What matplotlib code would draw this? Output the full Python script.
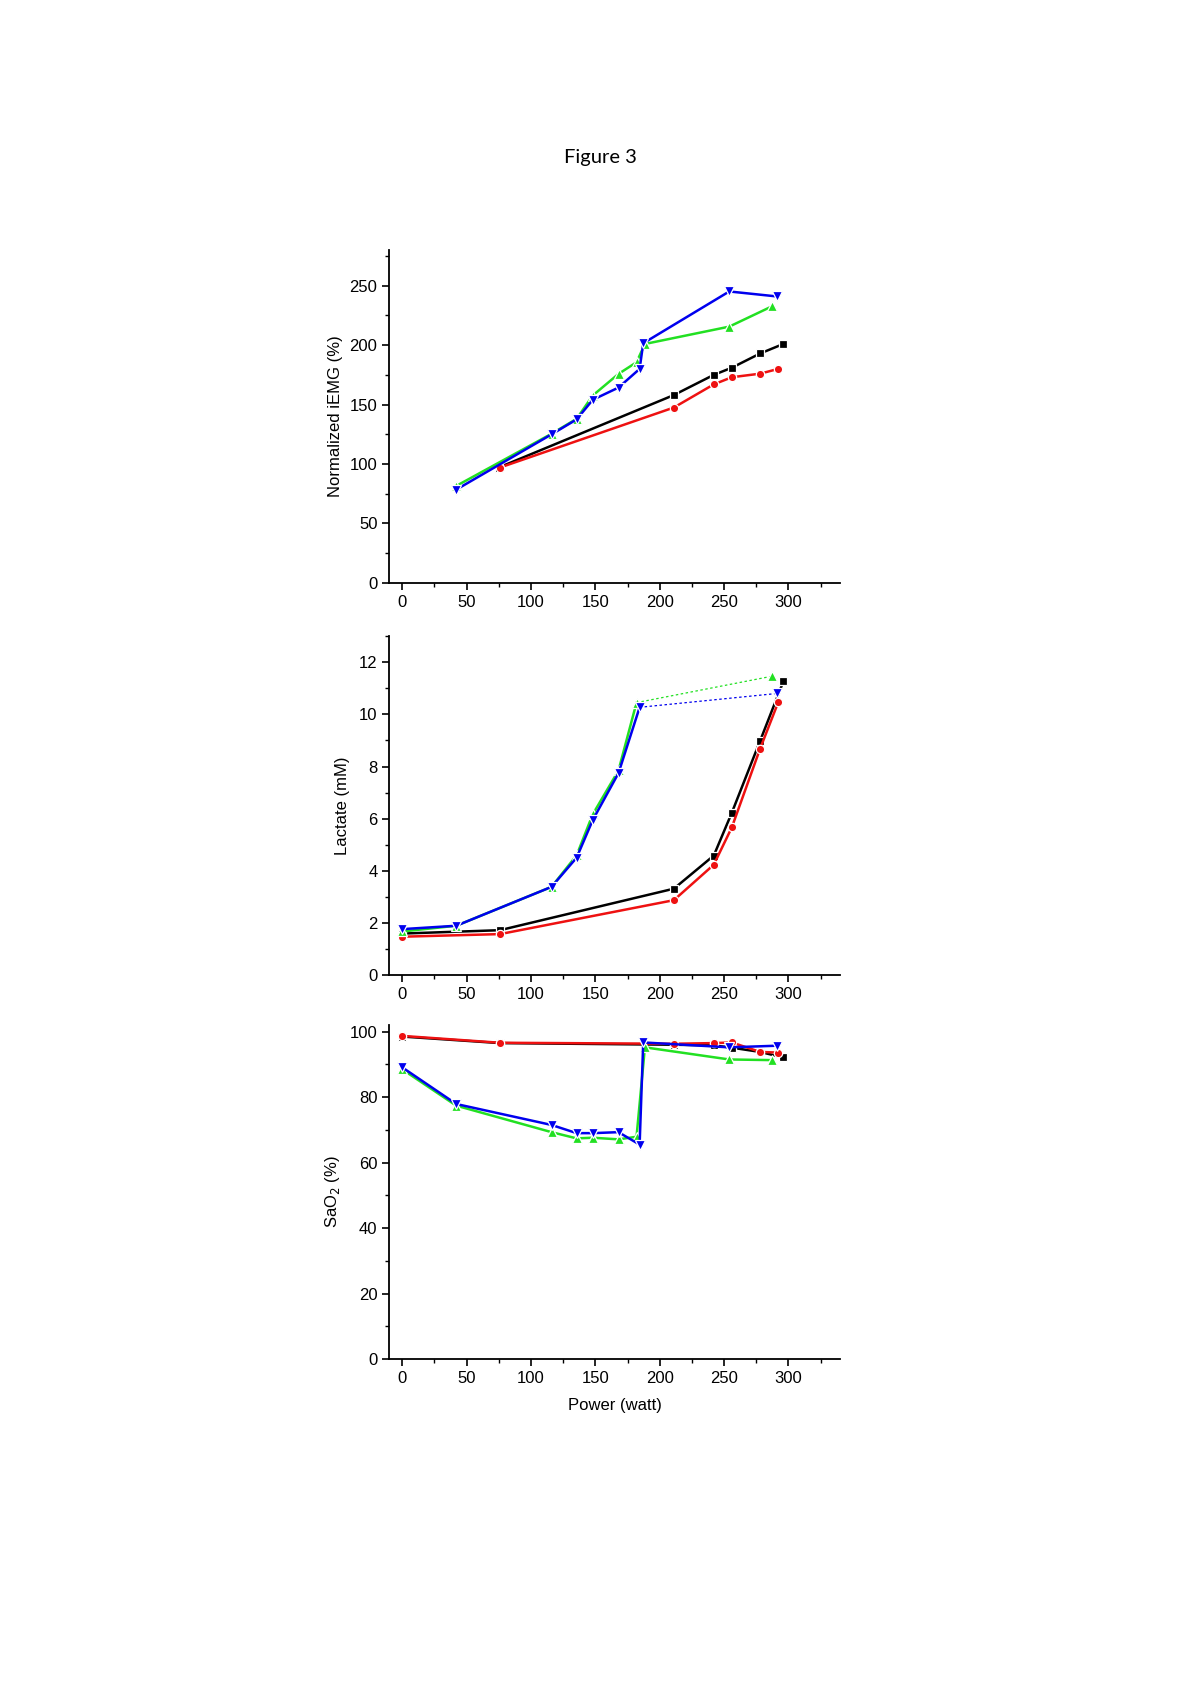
import matplotlib
matplotlib.use("Agg")
import matplotlib.pyplot as plt
from matplotlib.ticker import MultipleLocator

plt.rcParams['font.family'] = ['Liberation Sans', 'DejaVu Sans']

# ---- data (x = power in watt) ----
# Panel A: normalized iEMG (%)
emg_black_x = [75, 211, 242, 256, 278, 296]
emg_black_y = [97, 158, 175, 181, 193, 201]
emg_red_x = [76, 211, 242, 256, 278, 292]
emg_red_y = [97, 147.5, 167, 173, 176, 180]
emg_green_x = [42, 116, 135.5, 148, 168, 182, 188.5, 254, 287]
emg_green_y = [81.5, 125.4, 138, 157.6, 175.8, 185.6, 201, 215.6, 232.6]
emg_blue_x = [42, 116, 135.5, 148, 168, 184.4, 187.2, 254, 291]
emg_blue_y = [78.4, 124.9, 137.5, 154, 164.3, 180, 201.6, 245.2, 241]

# Panel B: lactate (mM); last green/blue point joined by a dotted line
lac_black_x = [0, 76, 211, 242, 256, 278, 296]
lac_black_y = [1.6, 1.73, 3.32, 4.59, 6.23, 8.99, 11.26]
lac_red_x = [0, 76, 211, 242, 256, 278, 292]
lac_red_y = [1.48, 1.58, 2.88, 4.24, 5.67, 8.69, 10.46]
lac_green_x = [0, 42, 116, 135.5, 148, 168, 182, 287]
lac_green_y = [1.68, 1.9, 3.39, 4.6, 6.17, 7.85, 10.45, 11.46]
lac_blue_x = [0, 42, 116, 135.5, 148, 168, 184.4, 291]
lac_blue_y = [1.77, 1.9, 3.39, 4.51, 5.95, 7.75, 10.27, 10.8]

# Panel C: SaO2 (%)
sao_black_x = [0, 76, 211, 242, 256, 278, 296]
sao_black_y = [98.5, 96.5, 96.0, 95.8, 95.1, 93.8, 92.1]
sao_red_x = [0, 76, 211, 242, 256, 278, 292]
sao_red_y = [98.7, 96.6, 96.3, 96.5, 96.7, 93.8, 93.6]
sao_green_x = [0, 42, 116, 135.5, 148, 168, 182, 188.5, 254, 287]
sao_green_y = [88.5, 77.4, 69.3, 67.4, 67.6, 67.1, 67.9, 95.2, 91.5, 91.3]
sao_blue_x = [0, 42, 116, 135.5, 148, 168, 184.4, 187.2, 254, 291]
sao_blue_y = [89.1, 77.9, 71.5, 69.0, 69.0, 69.3, 65.5, 96.7, 95.2, 95.7]

colors = {'black': '#000000', 'red': '#ee1111', 'green': '#22e022', 'blue': '#0000ee'}
markers = {'black': 's', 'red': 'o', 'green': '^', 'blue': 'v'}
msize = {'black': 5.5, 'red': 6, 'green': 7, 'blue': 7}


def draw(ax, key, x, y, dotted_last=False):
    kw = dict(color=colors[key], marker=markers[key], markersize=msize[key],
              markeredgecolor='white', markeredgewidth=0.9, linewidth=1.8)
    if dotted_last:
        ax.plot(x[-2:], y[-2:], color=colors[key], linestyle=(0, (2, 2)), linewidth=0.9)
        ax.plot(x[:-1], y[:-1], **kw)
        ax.plot(x[-1:], y[-1:], linestyle='none', **{k: v for k, v in kw.items() if k != 'linewidth'})
    else:
        ax.plot(x, y, **kw)


def style(ax, ymax, ymajor, yminor):
    ax.set_xlim(-10, 340)
    ax.set_ylim(0, ymax)
    ax.spines['top'].set_visible(False)
    ax.spines['right'].set_visible(False)
    ax.spines['left'].set_linewidth(1.3)
    ax.spines['bottom'].set_linewidth(1.3)
    ax.xaxis.set_major_locator(MultipleLocator(50))
    ax.xaxis.set_minor_locator(MultipleLocator(25))
    ax.yaxis.set_major_locator(MultipleLocator(ymajor))
    ax.yaxis.set_minor_locator(MultipleLocator(yminor))
    ax.set_xticks([0, 50, 100, 150, 200, 250, 300])
    ax.tick_params(which='major', length=5, width=1.2, labelsize=12, direction='out')
    ax.tick_params(which='minor', length=3, width=1.0, direction='out')


fig = plt.figure(figsize=(12, 16.98), dpi=100)
fig.text(0.5, 1 - 158 / 1698, 'Figure 3', ha='center', va='center',
         fontsize=14.5, family=['Lato', 'DejaVu Sans'])

ax1 = fig.add_axes([0.3244, 0.6568, 0.3756, 0.1959])
draw(ax1, 'black', emg_black_x, emg_black_y)
draw(ax1, 'red', emg_red_x, emg_red_y)
draw(ax1, 'green', emg_green_x, emg_green_y)
draw(ax1, 'blue', emg_blue_x, emg_blue_y)
style(ax1, 280, 50, 25)
ax1.set_ylabel('Normalized iEMG (%)', fontsize=12)
ax1.yaxis.set_label_coords(-0.103, 0.5)

ax2 = fig.add_axes([0.3244, 0.4256, 0.3756, 0.1998])
draw(ax2, 'black', lac_black_x, lac_black_y)
draw(ax2, 'red', lac_red_x, lac_red_y)
draw(ax2, 'green', lac_green_x, lac_green_y, dotted_last=True)
draw(ax2, 'blue', lac_blue_x, lac_blue_y, dotted_last=True)
style(ax2, 13, 2, 1)
ax2.set_ylabel('Lactate (mM)', fontsize=12)
ax2.yaxis.set_label_coords(-0.087, 0.5)

ax3 = fig.add_axes([0.3244, 0.1996, 0.3756, 0.1967])
draw(ax3, 'black', sao_black_x, sao_black_y)
draw(ax3, 'red', sao_red_x, sao_red_y)
draw(ax3, 'green', sao_green_x, sao_green_y)
draw(ax3, 'blue', sao_blue_x, sao_blue_y)
style(ax3, 102, 20, 10)
ax3.set_ylabel('SaO$_2$ (%)', fontsize=12)
ax3.yaxis.set_label_coords(-0.105, 0.5)
ax3.set_xlabel('Power (watt)', fontsize=12, labelpad=9)

fig.savefig('out.png', dpi=100)
